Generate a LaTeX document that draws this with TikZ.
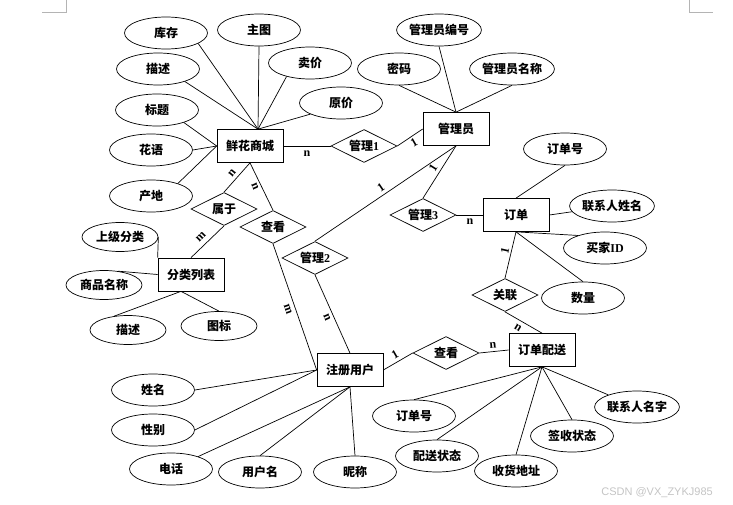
\documentclass[tikz,border=0pt]{standalone}
\usepackage{fontspec}
\setmainfont{Liberation Serif}
\newfontfamily\cjk{Noto Sans CJK SC}
\newfontfamily\wmfont{Liberation Sans}
\usepackage{xcolor}
\usepackage{tikz}
\usetikzlibrary{positioning, shapes.geometric, calc}
\definecolor{markgray}{HTML}{B4B4B4}
\definecolor{wmgray}{HTML}{C4C4C4}
\tikzset{
    cn/.style={font=\cjk\bfseries\fontsize{12}{14}\selectfont},
    entity/.style={cn, draw, rectangle, minimum width=66pt, minimum height=33pt},
    attr/.style={cn, draw, ellipse, inner sep=0pt, minimum width=83pt, minimum height=32pt},
    attrsmall/.style={attr, minimum width=76pt, minimum height=29pt},
    relation/.style={cn, draw, diamond, aspect=2, inner sep=0pt, minimum width=66pt, minimum height=33pt},
    card/.style={font=\rmfamily\bfseries\fontsize{12}{14}\selectfont, inner sep=0pt},
}

\begin{document}
\begin{tikzpicture}[x=1pt, y=-1pt, line width=0.7pt]
    \useasboundingbox (0,0) rectangle (733,505);
    \draw[markgray, line width=0.6pt] (66,0) -- (66,12) -- (42,12);
    \draw[markgray, line width=0.6pt] (689,0) -- (689,12) -- (713,12);

    \node[entity] (shop) at (250,146) {鲜花商城};
    \node[entity] (mgr) at (456,129) {管理员};
    \node[entity] (order) at (516,215) {订单};
    \node[entity] (cls) at (191,274.5) {分类列表};
    \node[entity] (user) at (350,370) {注册用户};
    \node[entity] (deliv) at (542,350) {订单配送};

    \node[relation] (gl1) at (364,146) {管理{\rmfamily 1}};
    \node[relation] (gl2) at (315,258) {管理{\rmfamily 2}};
    \node[relation] (gl3) at (423,215) {管理{\rmfamily 3}};
    \node[relation] (look1) at (273,227) {查看};
    \node[relation] (belong) at (224,209) {属于};
    \node[relation] (link) at (505,295) {关联};
    \node[relation] (look2) at (446,353) {查看};

    \node[attr] (stock) at (166,33) {库存};
    \node[attr] (pic) at (259,30) {主图};
    \node[attr] (desc) at (158,69) {描述};
    \node[attr] (sell) at (310,63) {卖价};
    \node[attr] (cost) at (341,103) {原价};
    \node[attr] (title) at (157,110) {标题};
    \node[attr] (lang) at (151,150) {花语};
    \node[attr] (place) at (151,196) {产地};

    \node[attr] (mno) at (439,30) {管理员编号};
    \node[attr] (pwd) at (399,69) {密码};
    \node[attr] (mname) at (512,69) {管理员名称};

    \node[attr] (ono) at (565,149) {订单号};
    \node[attr] (cname) at (612,206) {联系人姓名};
    \node[attr] (buyer) at (605,248) {买家{\rmfamily ID}};
    \node[attr] (qty) at (583,298) {数量};

    \node[attrsmall] (upcat) at (120,237) {上级分类};
    \node[attrsmall] (gname) at (104,285) {商品名称};
    \node[attrsmall] (cdesc) at (128,330) {描述};
    \node[attrsmall] (icon) at (219,326) {图标};

    \node[attr] (realname) at (153,390) {姓名};
    \node[attr] (sex) at (153,430) {性别};
    \node[attr] (tel) at (171,469) {电话};
    \node[attr] (login) at (260,472) {用户名};
    \node[attr] (nick) at (355,472) {昵称};

    \node[attr] (dno) at (414,416) {订单号};
    \node[attr] (dstat) at (437,456) {配送状态};
    \node[attr] (addr) at (516,471) {收货地址};
    \node[attr] (sign) at (572,436) {签收状态};
    \node[attr] (rname) at (637,407) {联系人名字};

    \draw (stock.-18) -- ([xshift=8pt]shop.north);
    \draw (pic.south) -- ([xshift=8pt]shop.north);
    \draw (desc.-25) -- ([xshift=8pt]shop.north);
    \draw (sell.210) -- ([xshift=8pt]shop.north);
    \draw (cost.200) -- ([xshift=8pt]shop.north);
    \draw (title.-25) -- (shop.west);
    \draw (lang.east) -- (shop.west);
    \draw (place.25) -- (shop.west);

    \draw (mno.south) -- (mgr.north);
    \draw (pwd.south) -- (mgr.north);
    \draw (mname.south) -- (mgr.north);

    \draw (ono.south) -- (order.north);
    \draw (cname) -- (order.east);
    \draw (buyer.155) -- (order.south);
    \draw (qty.north) -- (order.south);

    \draw (upcat.east) -- (cls.north west);
    \draw (gname.45) -- (cls.west);
    \draw (cdesc.135) -- ([xshift=-10pt]cls.south);
    \draw (icon.north) -- ([xshift=-10pt]cls.south);

    \draw (realname.east) -- (user.west);
    \draw (sex.east) -- (user.west);
    \draw (tel) -- (user.south);
    \draw (login.north) -- (user.south);
    \draw (nick.north) -- (user.south);

    \draw (dno.north) -- (deliv.south);
    \draw (dstat.north) -- (deliv.south);
    \draw (addr.north) -- (deliv.south);
    \draw (sign.north) -- (deliv.south);
    \draw (rname) -- (deliv.south);

    \draw (shop.east) -- (gl1.west);
    \draw (gl1.east) -- (mgr.west);
    \draw (shop.south) -- (belong.north);
    \draw (shop.south) -- (look1.north);
    \draw (belong.south) -- (cls.north);
    \draw (look1.south) -- (user.west);
    \draw (mgr.south) -- (gl2.north);
    \draw (gl2.south) -- (user.north);
    \draw (mgr.south) -- (gl3.north);
    \draw (gl3.east) -- (order.west);
    \draw (order.south) -- (link.north);
    \draw (link.south) -- (deliv.north);
    \draw (user.east) -- (look2.west);
    \draw (look2.east) -- (deliv.west);

    \node[card] (c1) at (307,154) {n};
    \node[card, rotate=30] (c2) at (414,143) {1};
    \node[card, rotate=50] (c3) at (232,173) {n};
    \node[card, rotate=-67] (c4) at (255,186) {n};
    \node[card, rotate=45] (c5) at (201,237) {m};
    \node[card, rotate=-71] (c6) at (288,309) {m};
    \node[card, rotate=-67] (c7) at (327,317) {n};
    \node[card, rotate=34] (c8) at (381,188) {1};
    \node[card, rotate=58] (c9) at (433,168) {1};
    \node[card] (c10) at (470,222) {n};
    \node[card, rotate=77] (c11) at (505,251) {1};
    \node[card, rotate=-31] (c12) at (518,328) {n};
    \node[card, rotate=30] (c13) at (395,355) {1};
    \node[card, rotate=5] (c14) at (493,345) {n};

    \node[anchor=west, inner sep=0pt, text=wmgray, font=\wmfont\fontsize{11}{13}\selectfont] (csdn) at (601,493) {CSDN @VX\_ZYKJ985};
\end{tikzpicture}
\end{document}
